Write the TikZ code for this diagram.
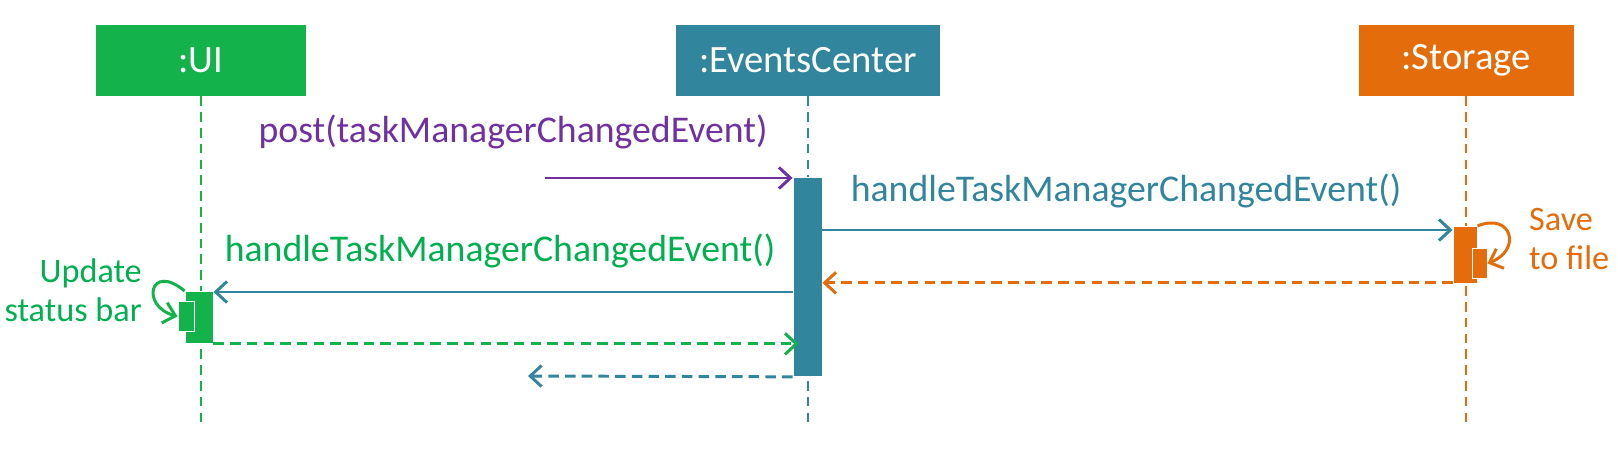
\documentclass[tikz,border=0pt]{standalone}
\usepackage{fontspec}
\setmainfont{Carlito}
\usetikzlibrary{arrows.meta, calc}

\definecolor{uigreen}{HTML}{13B24B}
\definecolor{evteal}{HTML}{31859C}
\definecolor{storange}{HTML}{E46C0A}
\definecolor{postpurple}{HTML}{7030A0}
\definecolor{txtgreen}{HTML}{00B050}

\begin{document}
\begin{tikzpicture}[
    x=0.02cm, y=-0.02cm,
    obj/.style={fill=#1, text=white, minimum height=1.42cm, inner sep=0pt,
        font=\fontsize{22}{26}\selectfont},
    life/.style={draw=#1, line width=1.6pt, dash pattern=on 5.5pt off 3.5pt},
    act/.style={fill=#1, draw=white, line width=0.5pt, inner sep=0pt, anchor=north},
    msg/.style={draw=#1, line width=1.7pt, -{Straight Barb[length=6.5pt, width=12pt, line width=1.7pt]}},
    ret/.style={msg=#1, dash pattern=on 6pt off 3.5pt},
    lbl/.style={text=#1, font=\fontsize{21.5}{26}\selectfont},
    note/.style={text=#1, font=\fontsize{19.5}{22}\selectfont},
]
\useasboundingbox (0,0) rectangle (1618,455);

% Objekte
\node[obj=uigreen, minimum width=4.22cm] (ui) at (201,60.5) {:UI};
\node[obj=evteal, minimum width=5.28cm] (ec) at (808,60.5) {:EventsCenter};
\node[obj=storange, minimum width=4.3cm] (st) at (1466,60.5) {:Storage};

% Lebenslinien
\coordinate (uiend) at (201,423);
\coordinate (ecend) at (808,423);
\coordinate (stend) at (1466,423);
\draw[life=uigreen] (ui.south) -- (uiend);
\draw[life=evteal] (ec.south) -- (ecend);
\draw[life=storange] (st.south) -- (stend);

% Aktivierungen
\node[act=evteal, minimum width=0.58cm, minimum height=3.98cm] (ecact) at (807.5,177) {};
\node[act=uigreen, minimum width=0.56cm, minimum height=1.04cm] (uiact) at (199,291) {};
\node[act=uigreen, minimum width=0.32cm, minimum height=0.6cm] (uiself) at (186,301) {};
\node[act=storange, minimum width=0.48cm, minimum height=1.14cm] (stact) at (1465,226) {};
\node[act=storange, minimum width=0.3cm, minimum height=0.6cm] (stself) at (1479.5,248) {};

% Nachrichten
\coordinate (postsrc) at (545,178);
\draw[msg=postpurple] (postsrc) -- (ecact.north west |- postsrc);
\node[lbl=postpurple] (postlbl) at (513,132) {post(taskManagerChangedEvent)};

\coordinate (stcall) at ($(stact.north west)+(0,4)$);
\draw[msg=evteal] (ecact.east |- stcall) -- (stcall);
\node[lbl=evteal] (stlbl) at (1126,191) {handleTaskManagerChangedEvent()};

\coordinate (stret) at ($(stact.south west)+(0,-1)$);
\draw[ret=storange] (stret) -- (ecact.east |- stret);

\coordinate (uicall) at ($(uiact.north east)+(0,1)$);
\draw[msg=evteal] (ecact.west |- uicall) -- (uicall);
\node[lbl=txtgreen] (uilbl) at (500,251) {handleTaskManagerChangedEvent()};

\coordinate (uiret) at (uiact.south east);
\draw[ret=uigreen] (uiret) -- ($(ecact.west |- uiret)+(6,0)$);

\coordinate (ecret) at (528,376);
\draw[ret=evteal] (ecact.south west) -- (ecret);

% Selbstaufrufe
\draw[msg=uigreen] (uiact.north west) .. controls (150,262) and (140,306) .. (uiself.west);
\node[note=txtgreen, align=right, anchor=east] (uinote) at (148,290) {Update\\status bar};

\draw[msg=storange] (stact.north east) .. controls (1512,212) and (1522,250) .. (stself.east);
\node[note=storange, align=left, anchor=west] (stnote) at (1523,239) {Save\\to file};

\end{tikzpicture}
\end{document}
